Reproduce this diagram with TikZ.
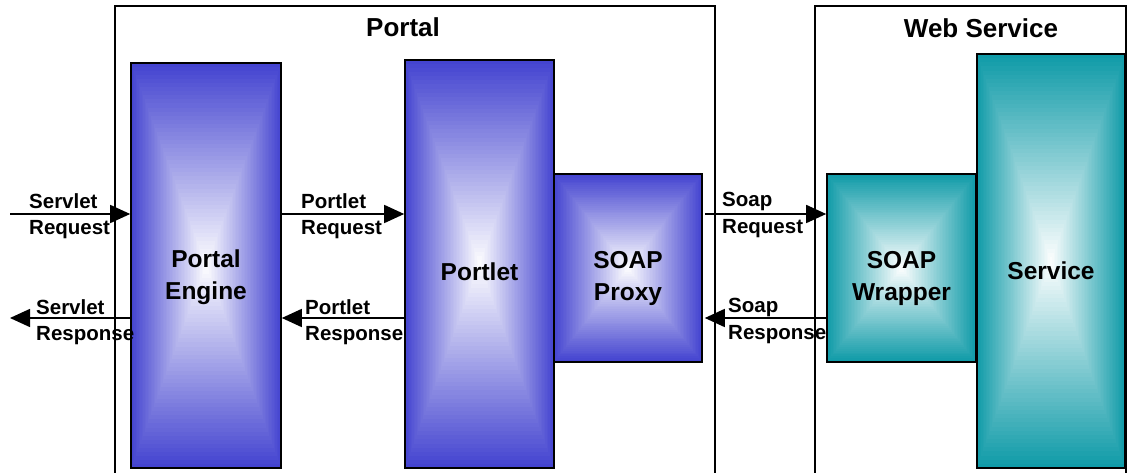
\documentclass[tikz,border=0pt]{standalone}
\usepackage{fontspec}
\setmainfont{Liberation Sans}
\usetikzlibrary{arrows.meta, calc, positioning}
\definecolor{portalblue}{RGB}{68,68,208}
\definecolor{serviceteal}{RGB}{16,155,168}

\begin{document}
\begin{tikzpicture}[x=1pt, y=-1pt,
		frame/.style={line width=1.6pt},
		blockbox/.style={draw=black, line width=1.6pt, inner sep=0pt,
			path picture={
				\foreach \i in {0,...,49}{
					\pgfmathsetmacro\w{100-2*\i}
					\fill [#1!\w!white] ($(path picture bounding box.south west)!\i/50!(path picture bounding box.center)$) rectangle ($(path picture bounding box.north east)!\i/50!(path picture bounding box.center)$);
				}
			}},
		boxtext/.style={font=\fontsize{24.5}{32}\selectfont\bfseries, align=center, yshift=-8pt},
		title/.style={font=\fontsize{26}{30}\selectfont\bfseries},
		msg/.style={font=\fontsize{20.5}{26.5}\selectfont\bfseries, align=left, inner sep=0pt, anchor=north west},
		flow/.style={line width=1.6pt, -{Triangle[length=20pt, width=18pt]}}]
	\useasboundingbox (0,0) rectangle (1128,473);
	
	% containers
	\draw [frame] (115,473) |- (715,6) -- (715,473);
	\draw [frame] (815,473) |- (1126,6) -- (1126,473);
	\node [title] (portaltitle) at (403,27) {Portal};
	\node [title] (wstitle) at (981,28) {Web Service};
	
	% components
	\node [blockbox=portalblue, minimum width=150pt, minimum height=405pt, label={[boxtext, yshift=-4pt]center:Portal\\Engine}] (engine) at (206,265.5) {};
	\node [blockbox=portalblue, minimum width=149pt, minimum height=408pt, label={[boxtext]center:Portlet}] (portlet) at (479.5,264) {};
	\node [blockbox=portalblue, minimum width=148pt, minimum height=188pt, label={[boxtext, yshift=-2pt]center:SOAP\\Proxy}] (proxy) at (628,268) {};
	\node [blockbox=serviceteal, minimum width=149pt, minimum height=188pt, label={[boxtext, yshift=-2pt]center:SOAP\\Wrapper}] (wrapper) at (901.5,268) {};
	\node [blockbox=serviceteal, minimum width=148pt, minimum height=414pt, label={[boxtext, yshift=-2pt]center:Service}] (service) at (1051,261) {};
	
	% messages
	\coordinate (reqlevel) at (0,214);
	\coordinate (resplevel) at (0,318);
	\coordinate (clientin) at (10,214);
	\coordinate (clientout) at (10,318);
	\draw [flow] (clientin) -- (engine.west |- clientin);
	\draw [flow] (engine.west |- clientout) -- (clientout);
	\draw [flow] (engine.east |- reqlevel) -- (portlet.west |- reqlevel);
	\draw [flow] (portlet.west |- resplevel) -- (engine.east |- resplevel);
	\draw [flow] ($(proxy.east |- reqlevel)+(2,0)$) -- (wrapper.west |- reqlevel);
	\draw [flow] (wrapper.west |- resplevel) -- ($(proxy.east |- resplevel)+(2,0)$);
	
	\node [msg] (srvreq) at (29,193) {Servlet\\Request};
	\node [msg] (srvresp) at (36,299) {Servlet\\Response};
	\node [msg] (ptlreq) at (301,193) {Portlet\\Request};
	\node [msg] (ptlresp) at (305,299) {Portlet\\Response};
	\node [msg] (soapreq) at (722,192) {Soap\\Request};
	\node [msg] (soapresp) at (728,298) {Soap\\Response};
\end{tikzpicture}
\end{document}
